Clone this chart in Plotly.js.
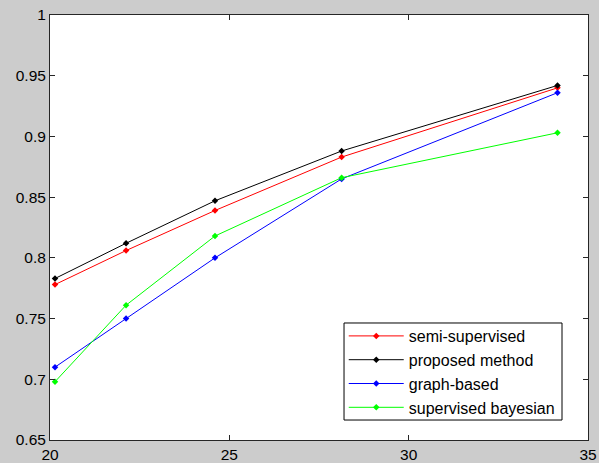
<!DOCTYPE html>
<html><head><meta charset="utf-8">
<script src="https://cdn.plot.ly/plotly-3.0.1.min.js"></script>
<style>html,body{margin:0;padding:0;background:#cccccc;}</style>
</head><body><div id="chart" style="width:599px;height:463px;"></div>
<script>
const xVals = [20.14, 22.12, 24.6, 28.13, 34.15];
const semiSupervised = [0.778, 0.806, 0.839, 0.883, 0.940];
const proposedMethod = [0.783, 0.812, 0.847, 0.888, 0.942];
const graphBased = [0.710, 0.750, 0.800, 0.865, 0.936];
const supervisedBayesian = [0.698, 0.761, 0.818, 0.866, 0.903];
const seriesNames = ['semi-supervised', 'proposed method', 'graph-based', 'supervised bayesian'];
const seriesColors = ['#ff0000', '#000000', '#0000ff', '#00ff00'];
const seriesData = [semiSupervised, proposedMethod, graphBased, supervisedBayesian];
const xTicks = [20, 25, 30, 35];
const yTicks = [0.65, 0.7, 0.75, 0.8, 0.85, 0.9, 0.95, 1];
const yTickText = ['0.65', '0.7', '0.75', '0.8', '0.85', '0.9', '0.95', '1'];

const traces = seriesData.map((d, i) => ({
  x: xVals, y: d, name: seriesNames[i], type: 'scatter', mode: 'lines+markers',
  line: {color: seriesColors[i], width: 1},
  marker: {color: seriesColors[i], size: 5, symbol: 'diamond'}
}));

const axisCommon = {
  showgrid: false, zeroline: false, showline: true, linecolor: '#262626', linewidth: 1,
  mirror: 'ticks', ticks: 'inside', ticklen: 5, tickcolor: '#262626',
  tickfont: {family: 'Arial, Liberation Sans, sans-serif', size: 15.5, color: '#000'}
};

const layout = {
  width: 599, height: 463,
  paper_bgcolor: '#cccccc', plot_bgcolor: '#ffffff',
  margin: {l: 50, r: 11, t: 15, b: 23},
  showlegend: true,
  xaxis: Object.assign({}, axisCommon, {range: [20, 35], tickvals: xTicks, ticktext: xTicks.map(String)}),
  yaxis: Object.assign({}, axisCommon, {range: [0.65, 1], tickvals: yTicks, ticktext: yTickText}),
  legend: {
    x: 0.546, y: 0.2847, xanchor: 'left', yanchor: 'top',
    bgcolor: 'rgba(0,0,0,0)', borderwidth: 0,
    font: {family: 'Arial, Liberation Sans, sans-serif', size: 16, color: '#000'},
    tracegroupgap: 0, itemwidth: 55
  },
  shapes: [{
    type: 'rect', xref: 'paper', yref: 'paper', layer: 'below',
    x0: 0.5465, x1: 0.9517, y0: 0.047, y1: 0.2753,
    fillcolor: '#ffffff', line: {color: '#000000', width: 1}
  }]
};

Plotly.newPlot('chart', traces, layout, {displayModeBar: false, staticPlot: true});
</script></body></html>
